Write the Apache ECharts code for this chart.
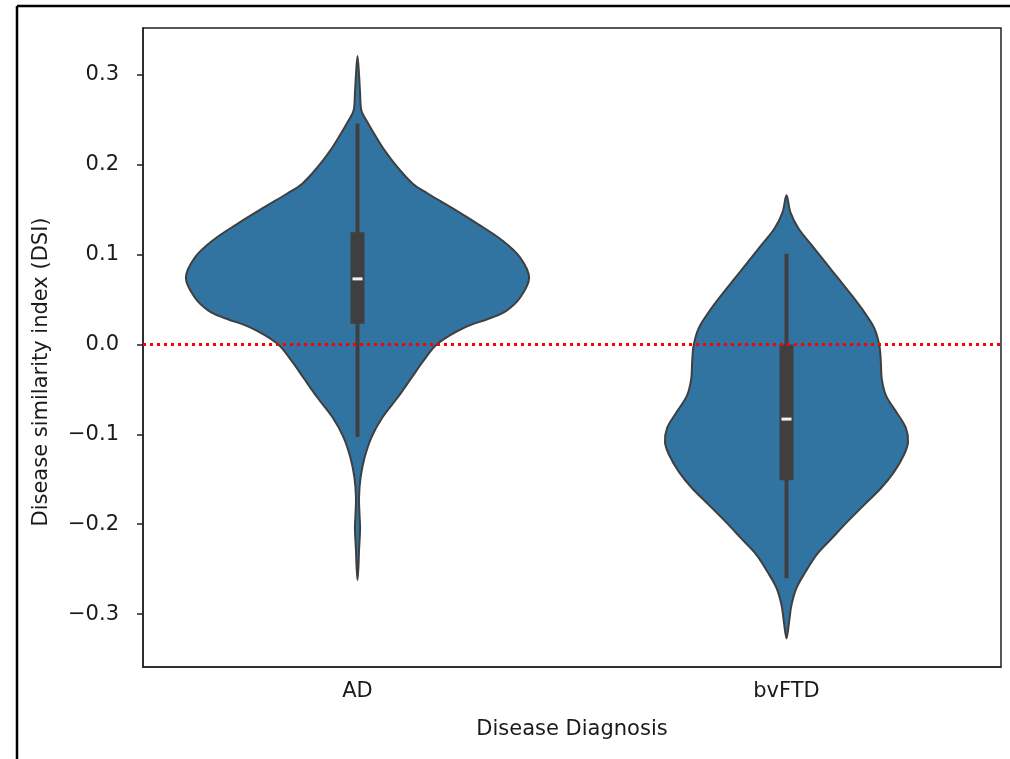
<!DOCTYPE html>
<html><head><meta charset="utf-8">
<script src="https://cdn.jsdelivr.net/npm/echarts@6/dist/echarts.min.js"></script>
<style>html,body{margin:0;padding:0;background:#fff}#c{width:1010px;height:759px}</style>
</head><body><div id="c"></div>
<script>
// ---- data ----
const categories = ['AD', 'bvFTD'];
const yTicks = [-0.3, -0.2, -0.1, 0.0, 0.1, 0.2, 0.3];
// KDE outline of AD: DSI value and relative density (1 = widest violin)
const adValues  = [0.321, 0.300, 0.280, 0.260, 0.249, 0.234, 0.216, 0.197, 0.179, 0.168, 0.152, 0.134, 0.116, 0.097, 0.074, 0.052, 0.038, 0.030, 0.019, 0.001, -0.018, -0.037, -0.059, -0.081, -0.103, -0.126, -0.148, -0.170, -0.190, -0.203, -0.215, -0.229, -0.245, -0.262];
const adDensity = [0.000, 0.009, 0.015, 0.023, 0.053, 0.099, 0.158, 0.234, 0.322, 0.409, 0.550, 0.702, 0.842, 0.947, 1.000, 0.947, 0.871, 0.784, 0.626, 0.468, 0.385, 0.315, 0.234, 0.146, 0.082, 0.041, 0.018, 0.009, 0.012, 0.015, 0.013, 0.009, 0.006, 0.000];
// KDE outline of bvFTD
const bvValues  = [0.166, 0.147, 0.129, 0.110, 0.091, 0.073, 0.054, 0.036, 0.018, -0.001, -0.020, -0.038, -0.057, -0.076, -0.093, -0.109, -0.123, -0.142, -0.160, -0.179, -0.198, -0.216, -0.234, -0.253, -0.271, -0.290, -0.309, -0.327];
const bvDensity = [0.000, 0.023, 0.070, 0.149, 0.228, 0.304, 0.383, 0.453, 0.512, 0.541, 0.550, 0.555, 0.580, 0.643, 0.696, 0.708, 0.684, 0.626, 0.550, 0.450, 0.351, 0.263, 0.175, 0.111, 0.058, 0.029, 0.015, 0.000];
// inner box: [lower whisker, Q1, median, Q3, upper whisker]
const adBox = [-0.103, 0.023, 0.073, 0.125, 0.246];
const bvBox = [-0.260, -0.151, -0.083, 0.000, 0.101];
const referenceLine = 0;
const xTitle = 'Disease Diagnosis';
const yTitle = 'Disease similarity index (DSI)';

// ---- build ----
const profiles = [{v: adValues, d: adDensity}, {v: bvValues, d: bvDensity}];
const boxes = [adBox, bvBox];
const FONT = 'DejaVu Sans';
const FS = 21;
const TXT = '#1a1a1a';

function renderViolin(params, api) {
  const i = api.value(0);
  const p = profiles[i];
  const half = api.size([1, 0])[0] * 0.4;
  const cx = api.coord([i, 0])[0];
  const pts = [];
  for (let k = 0; k < p.v.length; k++) pts.push([cx + p.d[k] * half, api.coord([i, p.v[k]])[1]]);
  for (let k = p.v.length - 2; k >= 1; k--) pts.push([cx - p.d[k] * half, api.coord([i, p.v[k]])[1]]);
  return {
    type: 'polygon',
    shape: {points: pts, smooth: 0.35},
    style: {fill: '#3274a1', stroke: '#3f3f3f', lineWidth: 2}
  };
}

function renderBox(params, api) {
  const i = api.value(0);
  const b = boxes[i];
  const cx = api.coord([i, 0])[0];
  const y = v => api.coord([i, v])[1];
  return {
    type: 'group',
    children: [
      {type: 'line', shape: {x1: cx, y1: y(b[0]), x2: cx, y2: y(b[4])}, style: {stroke: '#3f3f3f', lineWidth: 4}},
      {type: 'rect', shape: {x: cx - 7, y: y(b[3]), width: 14, height: y(b[1]) - y(b[3])}, style: {fill: '#3f3f3f'}},
      {type: 'rect', shape: {x: cx - 5, y: y(b[2]) - 1.5, width: 10, height: 3}, style: {fill: '#f2f2f2'}}
    ]
  };
}

const chart = echarts.init(document.getElementById('c'), null, {renderer: 'canvas'});
chart.setOption({
  animation: false,
  backgroundColor: '#fff',
  grid: {left: 143, top: 28, width: 858, height: 639, show: true, borderColor: '#222', borderWidth: 1.5, backgroundColor: 'transparent'},
  xAxis: {
    type: 'category', data: categories, boundaryGap: true,
    name: xTitle, nameLocation: 'middle', nameGap: 52,
    nameTextStyle: {fontFamily: FONT, fontSize: FS, color: TXT},
    axisLine: {onZero: false, lineStyle: {color: '#222', width: 1.5}},
    axisTick: {alignWithLabel: true, length: 6, lineStyle: {color: '#222', width: 1.5}},
    axisLabel: {fontFamily: FONT, fontSize: FS, color: TXT, margin: 14},
    splitLine: {show: false}
  },
  yAxis: {
    type: 'value', min: -0.3589, max: 0.3522,
    axisLine: {show: true, onZero: false, lineStyle: {color: '#222', width: 1.5}},
    axisTick: {show: true, length: 6, customValues: yTicks, lineStyle: {color: '#222', width: 1.5}},
    axisLabel: {fontFamily: FONT, fontSize: FS, color: TXT, margin: 24, customValues: yTicks,
      formatter: v => (v < -1e-9 ? '\u2212' : '') + Math.abs(v).toFixed(1)},
    splitLine: {show: false}
  },
  graphic: [
    {type: 'line', shape: {x1: 17, y1: 6, x2: 1010, y2: 6}, style: {stroke: '#000', lineWidth: 2.5}},
    {type: 'line', shape: {x1: 17, y1: 6, x2: 17, y2: 759}, style: {stroke: '#000', lineWidth: 2.5}},
    {type: 'text', x: 42, y: 372, rotation: Math.PI / 2,
     style: {text: yTitle, fontFamily: FONT, fontSize: FS, fill: TXT, align: 'center', verticalAlign: 'middle'}}
  ],
  series: [
    {type: 'custom', name: 'violin', renderItem: renderViolin, encode: {x: 0, y: 1},
     data: categories.map((c, i) => [i, 0]), z: 2},
    {type: 'custom', name: 'box', renderItem: renderBox, encode: {x: 0, y: 1},
     data: categories.map((c, i) => [i, 0]), z: 3,
     markLine: {silent: true, symbol: 'none', z: 5, label: {show: false},
       lineStyle: {color: '#ff0000', type: [3, 4], width: 3, opacity: 1, cap: 'butt'},
       emphasis: {disabled: true},
       data: [{yAxis: referenceLine}]}}
  ]
});
</script></body></html>
